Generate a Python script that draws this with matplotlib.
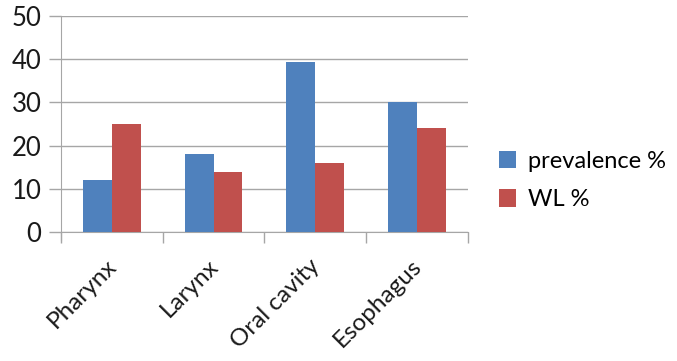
import matplotlib
matplotlib.use("Agg")
import numpy as np
import matplotlib.pyplot as plt
import matplotlib.transforms as mtransforms

categories = ["Pharynx", "Larynx", "Oral cavity", "Esophagus"]
prevalence = [12, 18, 39.4, 30]
wl = [25, 14, 16, 24]
series_names = ["prevalence %", "WL %"]
yticks = [0, 10, 20, 30, 40, 50]

plt.rcParams['font.family'] = ['Lato', 'DejaVu Sans']
grey = '#A6A6A6'

fig = plt.figure(figsize=(6.77, 3.61), dpi=100)
ax = fig.add_axes([0.090, 0.357, 0.601, 0.599])

x = np.arange(len(categories))
w = 0.285
ax.bar(x - w/2, prevalence, w, color='#4F81BD', label=series_names[0], zorder=3)
ax.bar(x + w/2, wl, w, color='#C0504D', label=series_names[1], zorder=3)

ax.set_xlim(-0.5, len(categories) - 0.5)
ax.set_ylim(0, 50)
ax.set_yticks(yticks)
ax.yaxis.grid(True, color=grey, linewidth=1, zorder=0)

# category boundaries get the tick marks, labels sit in the middle
ax.set_xticks(np.arange(len(categories) + 1) - 0.5)
ax.set_xticklabels([])
ax.set_xticks(x, minor=True)
ax.set_xticklabels(categories, minor=True, rotation=45, ha='right',
                   rotation_mode='anchor', fontsize=17.5, color='#1a1a1a')
ax.tick_params(axis='x', which='minor', length=0, pad=17)
ax.tick_params(axis='x', which='major', length=8, color=grey, width=1)
ax.tick_params(axis='y', length=9, color=grey, width=1, labelsize=18.5,
               labelcolor='#1a1a1a', pad=5)
shift = mtransforms.ScaledTranslation(-6/100, 0, fig.dpi_scale_trans)
for lab in ax.get_xticklabels(minor=True):
    lab.set_transform(lab.get_transform() + shift)

for side in ['top', 'right']:
    ax.spines[side].set_visible(False)
ax.spines['left'].set_color(grey)
ax.spines['bottom'].set_color(grey)
ax.spines['left'].set_bounds(-1.8, 50)
ax.spines['left'].set_clip_on(False)

fig.legend(loc='center left', bbox_to_anchor=(0.705, 0.5), frameon=False,
           fontsize=17, handlelength=0.75, handleheight=0.75, handletextpad=0.5,
           labelspacing=0.75)

fig.savefig("out.png", dpi=100)
